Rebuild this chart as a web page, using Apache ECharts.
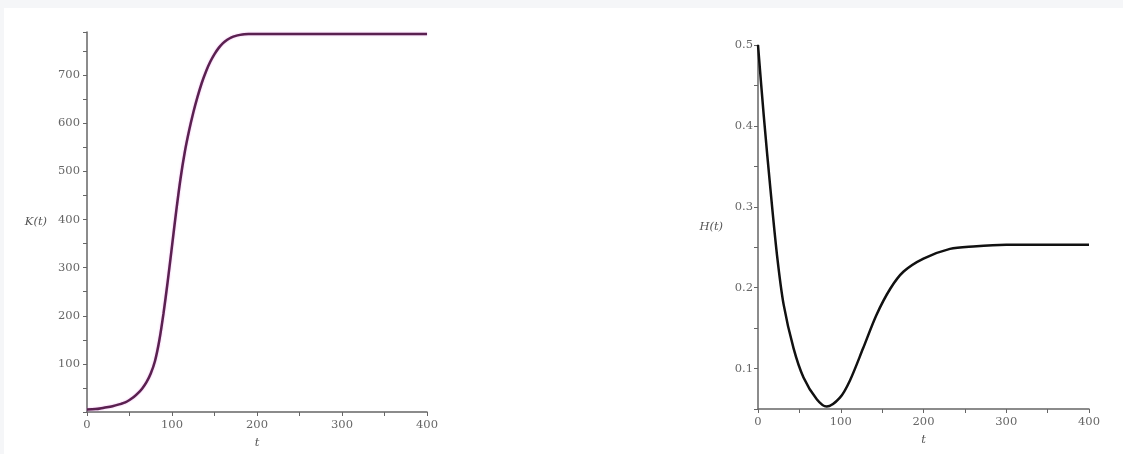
<!DOCTYPE html>
<html>
<head>
<meta charset="utf-8">
<script src="https://cdn.jsdelivr.net/npm/echarts@6/dist/echarts.min.js"></script>
<style>
html,body{margin:0;padding:0;background:#fff;}
#c{width:1123px;height:454px;}
</style>
</head>
<body>
<div id="c"></div>
<script>
// K(t) curve
const tK = [0, 10, 20, 30, 40, 45, 50, 55, 60, 65, 70, 75, 80, 85, 90, 95, 100, 105, 110, 115, 120, 125, 130, 135, 140, 145, 150, 155, 160, 165, 170, 175, 180, 185, 190, 200, 250, 300, 400];
const K  = [5, 6, 9, 12, 17, 20, 25, 31, 39, 49, 62, 80, 106, 148, 205, 272, 345, 418, 485, 540, 584, 622, 655, 684, 708, 728, 744, 757, 767, 774, 779, 782, 784, 785.5, 786, 786, 786, 786, 786];
// H(t) curve
const tH = [0, 7, 15, 23, 31, 43, 55, 71, 83, 99, 111, 127, 143, 160, 176, 200, 232, 260, 300, 400];
const H  = [0.5, 0.412, 0.322, 0.24, 0.179, 0.125, 0.089, 0.062, 0.053, 0.064, 0.085, 0.125, 0.166, 0.199, 0.220, 0.236, 0.248, 0.251, 0.253, 0.253];
const xTicks = [0, 100, 200, 300, 400];

const chart = echarts.init(document.getElementById('c'));
const font = 'DejaVu Serif, Liberation Serif, serif';
const axisCol = '#666';
const labCol = '#666';
function xAxisCfg(gi){
  return {
    gridIndex: gi, type: 'value', min: 0, max: 400, interval: 50,
    name: 't', nameLocation: 'middle', nameGap: 25,
    nameTextStyle: {fontFamily: font, fontStyle: 'italic', fontSize: 11.5, color: '#555'},
    axisLine: {lineStyle: {color: axisCol, width: 1.5}},
    axisTick: {length: 4, lineStyle: {color: axisCol}},
    axisLabel: {fontFamily: font, fontSize: 11.5, color: labCol, margin: 7,
      formatter: v => xTicks.indexOf(v) >= 0 ? String(v) : ''},
    splitLine: {show: false}
  };
}
chart.setOption({
  backgroundColor: '#fff',
  animation: false,
  graphic: [
    {type: 'rect', shape: {x: 0, y: 0, width: 1123, height: 8}, style: {fill: '#f5f6f8'}, silent: true},
    {type: 'rect', shape: {x: 0, y: 0, width: 4, height: 454}, style: {fill: '#f5f6f8'}, silent: true}
  ],
  grid: [
    {left: 87, right: 696, top: 32, bottom: 42},
    {left: 758, right: 34, top: 45, bottom: 45}
  ],
  xAxis: [xAxisCfg(0), xAxisCfg(1)],
  yAxis: [
    {gridIndex: 0, type: 'value', min: 0, max: 790, interval: 50,
     name: 'K(t)', nameLocation: 'middle', nameRotate: 0, nameGap: 40,
     nameTextStyle: {fontFamily: font, fontStyle: 'italic', fontSize: 11.5, color: '#555'},
     axisLine: {show: true, lineStyle: {color: axisCol, width: 1.5}},
     axisTick: {show: true, length: 4, lineStyle: {color: axisCol}},
     axisLabel: {fontFamily: font, fontSize: 11.5, color: labCol, margin: 7,
       formatter: v => (v > 0 && v % 100 === 0) ? String(v) : ''},
     splitLine: {show: false}},
    {gridIndex: 1, type: 'value', min: 0.05, max: 0.5, interval: 0.05,
     name: 'H(t)', nameLocation: 'middle', nameRotate: 0, nameGap: 35,
     nameTextStyle: {fontFamily: font, fontStyle: 'italic', fontSize: 11.5, color: '#555'},
     axisLine: {show: true, lineStyle: {color: axisCol, width: 1.5}},
     axisTick: {show: true, length: 4, lineStyle: {color: axisCol}},
     axisLabel: {fontFamily: font, fontSize: 11.5, color: labCol, margin: 5,
       formatter: v => { const r = Math.round(v * 100); return (r % 10 === 0) ? (r / 100).toFixed(1) : ''; }},
     splitLine: {show: false}}
  ],
  series: [
    {type: 'line', xAxisIndex: 0, yAxisIndex: 0, smooth: 0.3, showSymbol: false,
     data: tK.map((t, i) => [t, K[i]]),
     lineStyle: {color: '#5a2150', width: 2.5, shadowColor: 'rgba(230,120,230,0.6)', shadowBlur: 2}},
    {type: 'line', xAxisIndex: 1, yAxisIndex: 1, smooth: 0.3, showSymbol: false,
     data: tH.map((t, i) => [t, H[i]]),
     lineStyle: {color: '#111', width: 2.5}}
  ]
});
</script>
</body>
</html>
